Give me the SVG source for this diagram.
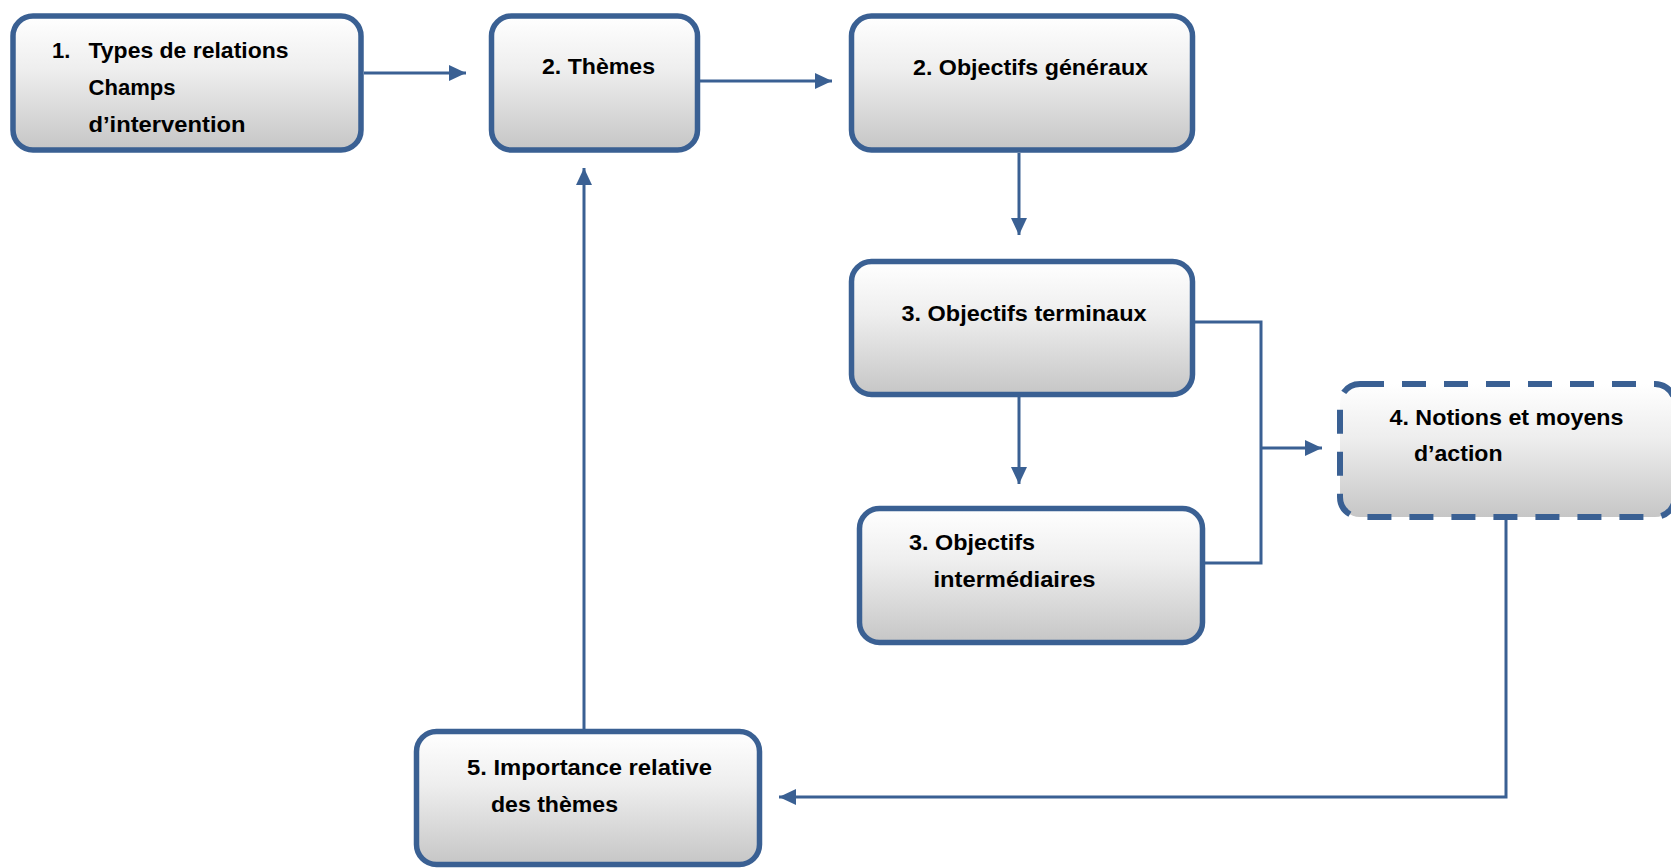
<svg xmlns="http://www.w3.org/2000/svg" width="1671" height="868" viewBox="0 0 1671 868">
<style>
.box{fill:url(#g);stroke:#3a6093;stroke-width:5.5}
.dash{fill:url(#g);stroke:#3a6093;stroke-width:6;stroke-dasharray:24 18}
.t{font-family:"Liberation Sans",Arial,sans-serif;font-weight:bold;font-size:22px;fill:#000}
.c{fill:none;stroke:#3a6093;stroke-width:3}
</style>
<defs>
<linearGradient id="g" x1="0" y1="0" x2="0" y2="1">
<stop offset="0" stop-color="#ffffff"/>
<stop offset="0.4" stop-color="#eeeeee"/>
<stop offset="1" stop-color="#c6c6c6"/>
</linearGradient>
<marker id="a" markerUnits="userSpaceOnUse" markerWidth="18" markerHeight="16" refX="17" refY="8" orient="auto">
<path d="M0,0 L17,8 L0,16 Z" fill="#3a6093"/>
</marker>
</defs>
<rect width="1671" height="868" fill="#ffffff"/>
<g id="connectors">
<path class="c" d="M364 73 H466" marker-end="url(#a)"/>
<path class="c" d="M700 81 H832" marker-end="url(#a)"/>
<path class="c" d="M1019 153 V235" marker-end="url(#a)"/>
<path class="c" d="M1019 397 V484" marker-end="url(#a)"/>
<path class="c" d="M1195 322 H1261 V563 H1205"/>
<path class="c" d="M1261 448 H1322" marker-end="url(#a)"/>
<path class="c" d="M1506 520 V797 H779" marker-end="url(#a)"/>
<path class="c" d="M584 729 V168" marker-end="url(#a)"/>
</g>
<g id="n1">
<rect class="box" x="13" y="16" width="348" height="134" rx="20"/>
<text class="t" x="52" y="58">1.</text>
<text class="t" x="88.5" y="58" textLength="200" lengthAdjust="spacingAndGlyphs">Types de relations</text>
<text class="t" x="88.5" y="95" textLength="87" lengthAdjust="spacingAndGlyphs">Champs</text>
<text class="t" x="88.5" y="131.5" textLength="157" lengthAdjust="spacingAndGlyphs">d’intervention</text>
</g>
<g id="n2">
<rect class="box" x="491.5" y="16" width="206" height="134" rx="20"/>
<text class="t" x="542" y="74" textLength="113" lengthAdjust="spacingAndGlyphs">2. Thèmes</text>
</g>
<g id="n3">
<rect class="box" x="851.5" y="16" width="341" height="134" rx="20"/>
<text class="t" x="913" y="75" textLength="235" lengthAdjust="spacingAndGlyphs">2. Objectifs généraux</text>
</g>
<g id="n4">
<rect class="box" x="851.5" y="261.5" width="341" height="133" rx="20"/>
<text class="t" x="901.5" y="321" textLength="245" lengthAdjust="spacingAndGlyphs">3. Objectifs terminaux</text>
</g>
<g id="n5">
<rect class="box" x="859.5" y="508.5" width="343" height="134" rx="20"/>
<text class="t" x="909" y="550" textLength="126" lengthAdjust="spacingAndGlyphs">3. Objectifs</text>
<text class="t" x="933.5" y="587" textLength="162" lengthAdjust="spacingAndGlyphs">intermédiaires</text>
</g>
<g id="n6">
<rect class="dash" x="1340" y="384" width="335" height="133" rx="20"/>
<text class="t" x="1389.5" y="425" textLength="234" lengthAdjust="spacingAndGlyphs">4. Notions et moyens</text>
<text class="t" x="1414" y="461" textLength="88.5" lengthAdjust="spacingAndGlyphs">d’action</text>
</g>
<g id="n7">
<rect class="box" x="416.5" y="731.5" width="343" height="133" rx="20"/>
<text class="t" x="467" y="775" textLength="245" lengthAdjust="spacingAndGlyphs">5. Importance relative</text>
<text class="t" x="491" y="811.5" textLength="127" lengthAdjust="spacingAndGlyphs">des thèmes</text>
</g>
</svg>
